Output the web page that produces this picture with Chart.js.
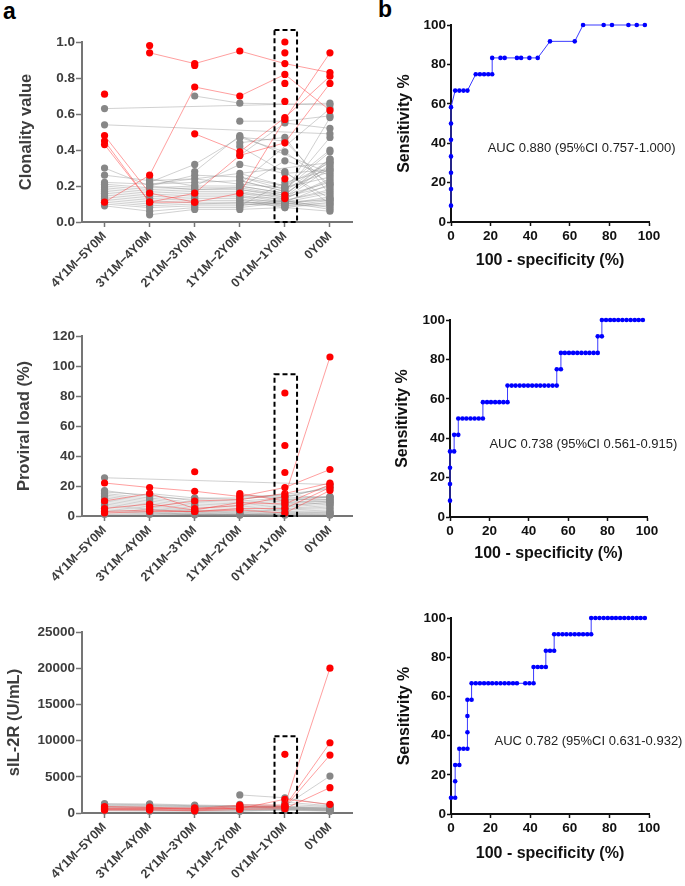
<!DOCTYPE html>
<html lang="en">
<head>
<meta charset="UTF-8">
<title>Clonality, PVL, sIL-2R and ROC</title>
<script src="https://cdn.jsdelivr.net/npm/chart.js"></script>
<style>
    body { margin: 0; background: #fff; font-family: "Liberation Sans", Arial, sans-serif; }
    .wrap { position: relative; width: 685px; height: 886px; overflow: hidden; }
    canvas { position: absolute; }
    .letter { position: absolute; font-weight: bold; font-size: 23px; color: #000; line-height: 26px; }
</style>
</head>
<body>
<div class="wrap">
    <div class="letter" style="left:3px;top:-2px">a</div>
    <div class="letter" style="left:378px;top:-4px">b</div>
    <canvas id="clon" width="360" height="290" style="left:0;top:0"></canvas>
    <canvas id="pvl" width="360" height="300" style="left:0;top:290px"></canvas>
    <canvas id="sil" width="360" height="300" style="left:0;top:586px"></canvas>
    <canvas id="roc1" width="345" height="290" style="left:340px;top:0"></canvas>
    <canvas id="roc2" width="345" height="300" style="left:340px;top:290px"></canvas>
    <canvas id="roc3" width="345" height="300" style="left:340px;top:586px"></canvas>
</div>
<script>
// time windows before diagnosis
const periods = ['4Y1M\u22125Y0M', '3Y1M\u22124Y0M', '2Y1M\u22123Y0M', '1Y1M\u22122Y0M', '0Y1M\u22121Y0M', '0Y0M'];

// clonality value, one array per patient
const clonGrey = [
    [0.63, null, null, null, null, 0.66],
    [0.54, null, null, null, null, 0.49],
    [null, null, 0.70, 0.66, null, 0.65],
    [null, null, null, 0.56, 0.56, 0.59],
    [0.30, 0.20, 0.26, 0.25, 0.20, 0.33],
    [0.26, 0.23, 0.24, 0.21, 0.19, 0.28],
    [0.22, 0.21, 0.22, 0.23, 0.17, 0.35],
    [0.21, 0.19, 0.20, 0.20, 0.16, 0.31],
    [0.20, 0.18, 0.19, 0.19, 0.15, 0.22],
    [0.19, 0.17, 0.18, 0.18, 0.14, 0.20],
    [0.18, 0.16, 0.17, 0.17, 0.13, 0.24],
    [0.17, 0.15, 0.16, 0.16, 0.12, 0.18],
    [0.16, 0.14, 0.15, 0.15, 0.11, 0.16],
    [0.15, 0.13, 0.14, 0.14, 0.10, 0.14],
    [0.14, 0.12, 0.13, 0.13, 0.09, 0.12],
    [0.13, 0.11, 0.12, 0.12, 0.08, 0.11],
    [0.12, 0.10, 0.11, 0.11, 0.10, 0.10],
    [0.11, 0.09, 0.10, 0.10, 0.09, 0.09],
    [0.10, 0.08, 0.09, 0.09, 0.12, 0.08],
    [0.09, 0.06, 0.08, 0.08, 0.11, 0.07],
    [null, 0.04, 0.07, 0.07, 0.08, 0.06],
    [null, 0.24, 0.20, 0.32, 0.27, 0.29],
    [null, 0.20, 0.18, 0.19, 0.34, 0.26],
    [null, 0.22, 0.32, 0.47, 0.39, 0.21],
    [null, null, 0.28, 0.48, null, 0.27],
    [null, null, null, 0.47, 0.45, 0.19],
    [null, null, null, 0.44, 0.47, 0.15],
    [null, null, null, 0.42, null, 0.13],
    [null, null, null, 0.37, 0.55, 0.52],
    [null, null, null, 0.27, 0.20, 0.40],
    [null, null, null, 0.25, 0.18, 0.39],
    [null, null, null, 0.23, 0.17, 0.47],
    [null, null, null, 0.21, null, 0.63],
    [null, null, null, 0.20, 0.16, 0.58],
    [null, null, null, 0.18, 0.15, 0.34],
    [null, null, null, 0.16, 0.14, 0.32],
    [null, null, null, 0.14, 0.13, 0.23],
    [null, null, null, 0.12, 0.12, 0.17],
    [null, null, null, 0.10, 0.10, 0.13],
    [null, null, null, 0.09, 0.22, 0.29],
    [null, null, null, null, 0.28, 0.10],
    [null, null, null, null, 0.19, 0.25],
    [null, null, null, null, 0.15, 0.35],
    [null, null, null, null, 0.13, 0.30],
    [null, null, null, null, 0.11, 0.21],
    [null, 0.21, null, null, null, 0.33],
    [null, null, 0.10, null, null, 0.12]
];
const clonRed = [
    [0.71, null, null, null, null, null],
    [null, 0.98, null, null, null, null],
    [null, 0.94, 0.88, 0.95, 0.88, 0.83],
    [0.11, 0.26, 0.75, 0.70, 0.82, 0.62],
    [0.48, 0.16, 0.11, 0.16, 0.57, 0.94],
    [0.45, 0.11, 0.16, 0.37, 0.44, 0.77],
    [null, null, 0.49, 0.39, 0.58, 0.81],
    [0.43, 0.11, 0.11, null, null, null],
    [null, null, 0.87, null, null, null],
    [null, null, null, null, 1.00, null],
    [null, null, null, null, 0.94, null],
    [null, null, null, null, 0.77, null],
    [null, null, null, null, 0.67, null],
    [null, null, null, null, 0.24, null],
    [null, null, null, null, 0.15, null],
    [null, null, null, null, 0.13, null]
];

// proviral load (%)
const pvlGrey = [
    [25.5, null, null, null, null, 21],
    [17, 13, 11, 10, 12, 20],
    [16, 14, 10, 9, 11, 13],
    [15, 12, 9, 8, 10, 12.5],
    [14, 11, 8, 7, 9, 11],
    [13, 10, 7, 6, 8, 10],
    [12, 9, 6, 5, 7, 9],
    [11, 8, 5, 4, 6, 8],
    [10, 7, 4, 3, 5, 7],
    [9, 6, 3.5, 2.5, 4.5, 6],
    [8, 5, 3, 2, 4, 5],
    [7, 4.5, 2.5, 1.5, 3, 4],
    [6, 4, 2, 1, 2.5, 3],
    [5, 3, 1.5, 0.8, 2, 2.5],
    [4, 2.5, 1, 0.5, 1.5, 2],
    [3, 2, 0.8, null, 1, 1.5],
    [2, 1.5, null, null, 0.5, 1],
    [1, 1, null, null, null, 0.5],
    [null, 15, 12, 12, 13, 19],
    [null, null, 12, 11, null, 18],
    [null, null, null, 13, 14, 12],
    [null, null, null, 14, 12, 13],
    [null, null, null, null, 11, 11],
    [null, null, null, null, 9, 10],
    [null, null, null, null, 7, 9],
    [null, null, null, null, null, 8]
];
const pvlRed = [
    [22, 19, 16.5, 13, 19, 31],
    [10, 15, 5, 7, 13, 106],
    [5, 8, 4, 9, 8, 21],
    [3, 4, 3, 5, 5, 19],
    [2, 3, 3, 4, 2, 17],
    [null, 6, 10, 11, 15, 22],
    [null, null, null, 15, 10, null],
    [null, null, 29.5, null, null, null],
    [null, null, null, null, 82, null],
    [null, null, null, null, 47, null],
    [null, null, null, null, 29, null]
];

// soluble IL-2 receptor (U/mL)
const silGrey = [
    [1300, 1250, 1100, 1000, 900, 800],
    [1200, 1150, 1000, 950, 850, 700],
    [1100, 1050, 950, 900, 800, 650],
    [1000, 950, 900, 850, 750, 600],
    [900, 850, 800, 800, 700, 550],
    [800, 750, 700, 700, 650, 500],
    [700, 650, 600, 600, 600, 450],
    [600, 550, 500, 500, 550, 400],
    [500, 450, 400, 400, 500, 350],
    [400, 350, 300, 300, 450, 300],
    [300, 250, 250, 250, 400, 250],
    [null, null, null, 2500, 2100, 1100],
    [null, null, null, 1200, 1000, 5100],
    [null, null, null, null, 1500, 1000],
    [null, null, null, null, 1200, 900]
];
const silRed = [
    [900, 800, 600, 1100, 1100, 20000],
    [700, 700, 500, 900, 900, 9700],
    [500, 500, 400, 700, 800, 8000],
    [400, 400, 300, 500, 600, 3500],
    [600, 600, 700, 600, 1900, 1200],
    [null, null, null, null, 8100, null]
];

// ROC curves: 100 - specificity (x) and sensitivity (y)
const roc1X = [0, 0, 0, 0, 0, 0, 0, 2.1, 4.2, 6.3, 8.3, 12.5, 14.6, 16.7, 18.8, 20.8, 20.8, 25, 27.1, 33.3, 35.4, 39.6, 43.8, 50, 62.5, 66.7, 77.1, 81.3, 89.6, 93.8, 97.9];
const roc1Y = [8.3, 16.7, 25, 33.3, 41.7, 50, 58.3, 66.7, 66.7, 66.7, 66.7, 75, 75, 75, 75, 75, 83.3, 83.3, 83.3, 83.3, 83.3, 83.3, 83.3, 91.7, 91.7, 100, 100, 100, 100, 100, 100];

const roc2X = [0, 0, 0, 0, 2.1, 2.1, 4.2, 4.2, 6.3, 8.3, 10.4, 12.5, 14.6, 16.7, 16.7, 18.8, 20.8, 22.9, 25, 27.1, 29.2,
    29.2, 31.3, 33.3, 35.4, 37.5, 39.6, 41.7, 43.8, 45.8, 47.9, 50, 52.1, 54.2, 54.2, 56.3,
    56.3, 58.3, 60.4, 62.5, 64.6, 66.7, 68.8, 70.8, 72.9, 75, 75, 77.1,
    77.1, 79.2, 81.3, 83.3, 85.4, 87.5, 89.6, 91.7, 93.8, 95.8, 97.9];
const roc2Y = [8.3, 16.7, 25, 33.3, 33.3, 41.7, 41.7, 50, 50, 50, 50, 50, 50, 50, 58.3, 58.3, 58.3, 58.3, 58.3, 58.3, 58.3,
    66.7, 66.7, 66.7, 66.7, 66.7, 66.7, 66.7, 66.7, 66.7, 66.7, 66.7, 66.7, 66.7, 75, 75,
    83.3, 83.3, 83.3, 83.3, 83.3, 83.3, 83.3, 83.3, 83.3, 83.3, 91.7, 91.7,
    100, 100, 100, 100, 100, 100, 100, 100, 100, 100, 100];

const roc3X = [0, 2.1, 2.1, 2.1, 4.2, 4.2, 6.3, 8.3, 8.3, 8.3, 8.3, 10.4,
    10.4, 12.5, 14.6, 16.7, 18.8, 20.8, 22.9, 25, 27.1, 29.2, 31.3, 33.3, 37.5, 39.6, 41.7,
    41.7, 43.8, 45.8, 47.9, 47.9, 50, 52.1,
    52.1, 54.2, 56.3, 58.3, 60.4, 62.5, 64.6, 66.7, 68.8, 70.8,
    70.8, 72.9, 75, 77.1, 79.2, 81.3, 83.3, 85.4, 87.5, 89.6, 91.7, 93.8, 95.8, 97.9];
const roc3Y = [8.3, 8.3, 16.7, 25, 25, 33.3, 33.3, 33.3, 41.7, 50, 58.3, 58.3,
    66.7, 66.7, 66.7, 66.7, 66.7, 66.7, 66.7, 66.7, 66.7, 66.7, 66.7, 66.7, 66.7, 66.7, 66.7,
    75, 75, 75, 75, 83.3, 83.3, 83.3,
    91.7, 91.7, 91.7, 91.7, 91.7, 91.7, 91.7, 91.7, 91.7, 91.7,
    100, 100, 100, 100, 100, 100, 100, 100, 100, 100, 100, 100, 100, 100];

const aucText = ['AUC 0.880 (95%CI 0.757-1.000)', 'AUC 0.738 (95%CI 0.561-0.915)', 'AUC 0.782 (95%CI 0.631-0.932)'];

const FONT = '"Liberation Sans", Arial, sans-serif';
const AX_GREY = '#757575';
const TXT_GREY = '#3d3d3d';

// dashed box around the 0Y1M-1Y0M column
function dashBox(cat, top) {
    return {
        id: 'dashBox',
        afterDatasetsDraw(chart) {
            const x = chart.scales.x, y = chart.scales.y;
            const step = x.getPixelForValue(1) - x.getPixelForValue(0);
            const c = x.getPixelForValue(cat);
            const ctx = chart.ctx;
            ctx.save();
            ctx.strokeStyle = '#000';
            ctx.lineWidth = 2;
            ctx.setLineDash([5, 3]);
            ctx.strokeRect(c - step * 0.23, y.getPixelForValue(top), step * 0.5, y.getPixelForValue(0) - y.getPixelForValue(top));
            ctx.restore();
        }
    };
}

function aucLabel(text, xv, yv) {
    return {
        id: 'aucLabel',
        afterDatasetsDraw(chart) {
            const ctx = chart.ctx;
            ctx.save();
            ctx.font = '13px ' + FONT;
            ctx.fillStyle = '#222';
            ctx.textBaseline = 'middle';
            ctx.fillText(text, chart.scales.x.getPixelForValue(xv), chart.scales.y.getPixelForValue(yv));
            ctx.restore();
        }
    };
}

function leftChart(id, grey, red, y, geo) {
    const datasets = [];
    red.forEach(s => datasets.push({
        data: s, borderColor: 'rgba(255,60,60,0.55)', borderWidth: 0.9,
        pointRadius: 3.6, pointBackgroundColor: '#ff0000', pointBorderWidth: 0,
        spanGaps: true, clip: false, order: 1
    }));
    grey.forEach(s => datasets.push({
        data: s, borderColor: 'rgba(140,140,140,0.5)', borderWidth: 0.8,
        pointRadius: 3.6, pointBackgroundColor: '#878787', pointBorderWidth: 0,
        spanGaps: true, clip: false, order: 2
    }));
    new Chart(document.getElementById(id), {
        type: 'line',
        data: { labels: periods, datasets: datasets },
        options: {
            responsive: false,
            animation: false,
            layout: { padding: { top: geo.top, right: geo.right, left: 0, bottom: 0 } },
            plugins: { legend: { display: false }, tooltip: { enabled: false } },
            scales: {
                x: {
                    offset: true,
                    grid: { drawOnChartArea: false, offset: false, color: AX_GREY, tickLength: 5, tickWidth: 1.5 },
                    border: { color: AX_GREY, width: 2 },
                    ticks: { minRotation: 45, maxRotation: 45, autoSkip: false, padding: 2, color: TXT_GREY,
                             font: { family: FONT, weight: 'bold', size: 12.5 } },
                    afterFit(s) { s.height = geo.xh; }
                },
                y: {
                    min: y.min, max: y.max,
                    grid: { drawOnChartArea: false, color: AX_GREY, tickLength: 6, tickWidth: 1.5 },
                    border: { color: AX_GREY, width: 2 },
                    ticks: { stepSize: y.step, padding: 1, color: TXT_GREY, callback: y.fmt,
                             font: { family: FONT, weight: 'bold', size: 13.5 } },
                    title: { display: true, text: y.title, color: TXT_GREY, padding: { top: geo.tp, bottom: 0 },
                             font: { family: FONT, weight: 'bold', size: 16.5 } },
                    afterFit(s) { s.width = 82; }
                }
            }
        },
        plugins: [dashBox(4, y.box)]
    });
}

function rocChart(id, xs, ys, k, geo) {
    new Chart(document.getElementById(id), {
        type: 'scatter',
        data: {
            datasets: [{
                data: xs.map((x, i) => ({ x: x, y: ys[i] })),
                showLine: true, borderColor: '#3a3aff', borderWidth: 1,
                pointRadius: 2.3, pointBackgroundColor: '#0000ff', pointBorderWidth: 0, clip: false
            }]
        },
        options: {
            responsive: false,
            animation: false,
            layout: { padding: { top: geo.top, right: geo.right, left: 0, bottom: 0 } },
            plugins: { legend: { display: false }, tooltip: { enabled: false } },
            scales: {
                x: {
                    min: 0, max: 100,
                    grid: { drawOnChartArea: false, color: '#111', tickLength: 4, tickWidth: 1.5 },
                    border: { color: '#111', width: 2 },
                    ticks: { stepSize: 20, padding: 2, color: '#111', font: { family: FONT, weight: 'bold', size: 13.5 } },
                    title: { display: true, text: '100 - specificity (%)', color: '#111', padding: { top: 0, bottom: geo.bp },
                             font: { family: FONT, weight: 'bold', size: 16 } },
                    afterFit(s) { s.height = geo.xh; }
                },
                y: {
                    min: 0, max: 100,
                    grid: { drawOnChartArea: false, color: '#111', tickLength: 4, tickWidth: 1.5 },
                    border: { color: '#111', width: 2 },
                    ticks: { stepSize: 20, padding: 1, color: '#111', font: { family: FONT, weight: 'bold', size: 13.5 } },
                    title: { display: true, text: 'Sensitivity %', color: '#111', padding: { top: geo.tp, bottom: 0 },
                             font: { family: FONT, weight: 'bold', size: 16 } },
                    afterFit(s) { s.width = geo.yw; }
                }
            }
        },
        plugins: [aucLabel(aucText[k], geo.tx, geo.ty)]
    });
}

leftChart('clon', clonGrey, clonRed,
    { min: 0, max: 1, step: 0.2, fmt: v => v.toFixed(1), title: 'Clonality value', box: 1.067 },
    { top: 42, right: 7.5, xh: 68, tp: 17 });
leftChart('pvl', pvlGrey, pvlRed,
    { min: 0, max: 120, step: 20, fmt: v => String(v), title: 'Proviral load (%)', box: 94.5 },
    { top: 46, right: 7.5, xh: 74, tp: 15 });
leftChart('sil', silGrey, silRed,
    { min: 0, max: 25000, step: 5000, fmt: v => String(v), title: 'sIL-2R (U/mL)', box: 10600 },
    { top: 46, right: 7.5, xh: 73, tp: 5 });

rocChart('roc1', roc1X, roc1Y, 0, { top: 25, right: 36, xh: 68, yw: 111, bp: 20, tp: 55, tx: 18.5, ty: 37.6 });
rocChart('roc2', roc2X, roc2Y, 1, { top: 30, right: 38, xh: 73, yw: 110, bp: 27, tp: 53, tx: 20, ty: 37 });
rocChart('roc3', roc3X, roc3Y, 2, { top: 32, right: 36, xh: 72, yw: 111, bp: 23, tp: 55, tx: 22, ty: 37.2 });
</script>
</body>
</html>
